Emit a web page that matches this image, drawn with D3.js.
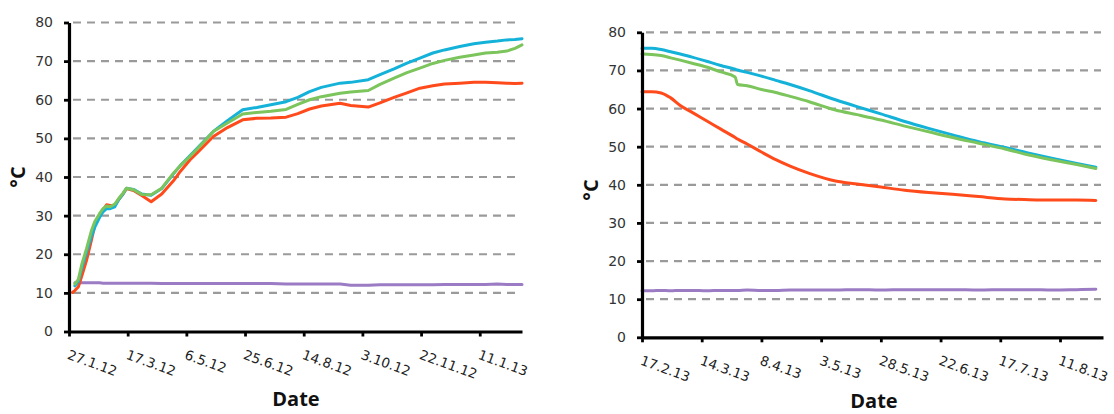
<!DOCTYPE html>
<html>
<head>
<meta charset="utf-8">
<style>
body { margin: 0; background: #fff; }
svg { display: block; }
</style>
</head>
<body>
<svg id="chart" width="1114" height="414"></svg>
<script src="https://d3js.org/d3.v7.min.js"></script>
<script>
    // shared y axis values
    const yTicks = [0, 10, 20, 30, 40, 50, 60, 70, 80];
    const gridValues = [10, 20, 30, 40, 50, 60, 70, 80];
    const yTitle = "°C";
    const xTitle = "Date";

    // left chart: heating period, days counted from 27.1.12
    const leftStart = "27.1.12";
    const leftEnd = "16.2.13";
    const leftTicks = ["27.1.12", "17.3.12", "6.5.12", "25.6.12", "14.8.12", "3.10.12", "22.11.12", "11.1.13"];
    const leftDays = [3, 5, 8, 11, 15, 19, 22, 26, 29, 32, 35, 39, 42, 46, 49, 55, 62, 70, 79, 89, 95, 103, 110, 123, 135,
        148, 160, 172, 185, 195, 205, 215, 231, 240, 255, 265, 277, 288, 299, 310, 320, 333, 345, 355, 365, 373, 380, 386];
    const leftRed = [10.1, 10.6, 11.6, 14.5, 18.5, 23.5, 27.5, 30.0, 31.5, 32.8, 32.6, 32.6, 34.0, 35.6, 37.0, 36.5, 35.2,
        33.6, 35.6, 39.0, 41.5, 44.4, 46.5, 50.5, 52.8, 54.8, 55.2, 55.3, 55.5, 56.4, 57.6, 58.4, 59.1, 58.5, 58.1, 59.2,
        60.6, 61.8, 63.0, 63.6, 64.1, 64.3, 64.5, 64.5, 64.4, 64.3, 64.2, 64.3];
    const leftGreen = [null, 12.3, 13.5, 17.5, 21.5, 26.0, 28.5, 30.5, 31.8, 32.5, 32.3, 33.0, 34.3, 35.8, 37.1, 36.7, 35.5,
        35.4, 37.1, 41.0, 43.0, 45.3, 47.5, 51.8, 54.0, 56.3, 56.7, 57.0, 57.5, 58.8, 60.0, 60.8, 61.7, 62.0, 62.4, 64.0,
        65.6, 67.0, 68.2, 69.4, 70.2, 71.0, 71.6, 72.1, 72.3, 72.6, 73.3, 74.2];
    const leftCyan = [null, 11.8, 13.0, 16.5, 20.5, 24.5, 27.0, 29.5, 31.0, 31.8, 31.8, 32.3, 34.0, 35.6, 37.1, 36.8, 35.6,
        35.3, 37.0, 40.8, 43.0, 45.5, 47.7, 51.8, 54.6, 57.4, 58.0, 58.7, 59.5, 60.6, 62.1, 63.2, 64.3, 64.5, 65.2, 66.5,
        68.0, 69.5, 70.8, 72.1, 72.9, 73.8, 74.5, 74.9, 75.2, 75.5, 75.6, 75.8];
    const leftPurple = [null, 12.6, 12.6, 12.6, 12.6, 12.6, 12.6, 12.6, 12.5, 12.5, 12.5, 12.5, 12.5, 12.5, 12.5, 12.5, 12.5,
        12.5, 12.4, 12.4, 12.4, 12.4, 12.4, 12.4, 12.4, 12.4, 12.4, 12.4, 12.3, 12.3, 12.3, 12.3, 12.3, 12.0, 12.0, 12.1,
        12.1, 12.1, 12.1, 12.1, 12.2, 12.2, 12.2, 12.2, 12.3, 12.2, 12.2, 12.2];

    // right chart: cooling period, days counted from 17.2.13
    const rightStart = "17.2.13";
    const rightEnd = "29.8.13";
    const rightTicks = ["17.2.13", "14.3.13", "8.4.13", "3.5.13", "28.5.13", "22.6.13", "17.7.13", "11.8.13"];
    const rightDays = [0, 4, 8, 12, 16, 21, 27, 33, 39, 40, 44, 50, 56, 62, 70, 81, 90, 100, 110, 120, 130, 141, 152, 162, 172, 182, 190];
    const rightCyan = [75.8, 75.8, 75.5, 74.9, 74.3, 73.5, 72.4, 71.3, 70.3, 70.1, 69.5, 68.5, 67.4, 66.3, 64.7, 62.3, 60.5,
        58.6, 56.6, 54.8, 53.1, 51.3, 49.8, 48.3, 46.9, 45.6, 44.6];
    const rightGreen = [74.3, 74.2, 73.9, 73.3, 72.7, 71.9, 70.9, 69.6, 68.3, 66.3, 66.0, 65.0, 64.2, 63.2, 61.8, 59.6, 58.4,
        57.0, 55.4, 53.9, 52.4, 50.9, 49.4, 47.8, 46.5, 45.3, 44.3];
    const rightRed = [64.4, 64.4, 64.1, 62.8, 60.8, 59.0, 56.8, 54.6, 52.4, 52.0, 50.7, 48.6, 46.6, 44.9, 43.0, 41.0, 40.2,
        39.4, 38.6, 38.0, 37.5, 36.9, 36.3, 36.1, 36.0, 36.0, 35.9];
    const rightPurple = [12.2, 12.2, 12.3, 12.2, 12.3, 12.3, 12.2, 12.3, 12.3, 12.3, 12.4, 12.3, 12.3, 12.4, 12.4, 12.4, 12.5,
        12.4, 12.5, 12.5, 12.5, 12.4, 12.5, 12.5, 12.4, 12.5, 12.6];

    const colors = { purple: "#9b7cc4", red: "#ff4a1c", cyan: "#14b2d8", green: "#7cc45c" };

    const svg = d3.select("#chart");
    const parse = d3.timeParse("%d.%m.%y");
    const fmt = d3.timeFormat("%-d.%-m.%y");

    drawPanel({
        left: 69, right: 522, top: 22.5, bottom: 331.5,
        start: leftStart, end: leftEnd, ticks: leftTicks, days: leftDays,
        series: [["purple", leftPurple], ["red", leftRed], ["cyan", leftCyan], ["green", leftGreen]],
        curve: d3.curveLinear,
        yTitleX: 25, yTitleY: 177, xTitleX: 296, xTitleY: 406
    });

    drawPanel({
        left: 642, right: 1103, top: 32.3, bottom: 337.3,
        start: rightStart, end: rightEnd, ticks: rightTicks, days: rightDays,
        series: [["purple", rightPurple], ["red", rightRed], ["cyan", rightCyan], ["green", rightGreen]],
        curve: d3.curveMonotoneX,
        yTitleX: 598, yTitleY: 190, xTitleX: 874, xTitleY: 408
    });

    function drawPanel(p) {
        const start = parse(p.start);
        const x = d3.scaleTime().domain([start, parse(p.end)]).range([p.left, p.right]);
        const y = d3.scaleLinear().domain([0, 80]).range([p.bottom, p.top]);
        const g = svg.append("g");

        // dashed horizontal grid
        g.append("g").selectAll("line")
            .data(gridValues)
            .enter()
            .append("line")
            .attr("x1", p.left + 4)
            .attr("x2", p.right - 2)
            .attr("y1", d => y(d))
            .attr("y2", d => y(d))
            .style("stroke", "#9a9a9a")
            .style("stroke-width", 2.2)
            .style("stroke-dasharray", "8,6");

        // series lines
        p.series.forEach(([name, values]) => {
            const pts = p.days.map((d, i) => ({ date: d3.timeDay.offset(start, d), v: values[i] }));
            const line = d3.line()
                .defined(d => d.v != null)
                .curve(p.curve)
                .x(d => x(d.date))
                .y(d => y(d.v));
            g.append("path")
                .datum(pts)
                .attr("d", line)
                .style("fill", "none")
                .style("stroke", colors[name])
                .style("stroke-width", 3)
                .style("stroke-linejoin", "round")
                .style("stroke-linecap", "round");
        });

        // y axis
        const yAxis = g.append("g")
            .attr("transform", `translate(${p.left},0)`)
            .call(d3.axisLeft(y).tickValues(yTicks).tickSize(5).tickSizeOuter(0).tickPadding(11));
        yAxis.select(".domain").style("stroke", "#000").style("stroke-width", 3.2);
        yAxis.selectAll(".tick line").style("stroke", "#000").style("stroke-width", 2.8);
        yAxis.selectAll("text")
            .attr("font-family", "DejaVu Sans")
            .attr("font-size", "14px")
            .style("fill", "#333");

        // x axis
        const xAxis = g.append("g")
            .attr("transform", `translate(0,${p.bottom})`)
            .call(d3.axisBottom(x).tickValues(p.ticks.map(parse)).tickFormat(fmt).tickSize(5).tickSizeOuter(0));
        xAxis.select(".domain").style("stroke", "#000").style("stroke-width", 3.2);
        xAxis.selectAll(".tick line").style("stroke", "#000").style("stroke-width", 2.8);
        xAxis.selectAll("text")
            .attr("x", 0)
            .attr("y", 0)
            .attr("dy", 0)
            .attr("text-anchor", "start")
            .attr("transform", "translate(-3,27) rotate(20)")
            .attr("font-family", "DejaVu Sans")
            .attr("font-size", "13.5px")
            .style("fill", "#222");

        // axis titles
        g.append("text")
            .attr("transform", `translate(${p.yTitleX},${p.yTitleY}) rotate(-90)`)
            .attr("text-anchor", "middle")
            .attr("font-family", "Open Sans")
            .attr("font-weight", "bold")
            .attr("font-size", "20px")
            .style("fill", "#111")
            .text(yTitle);

        g.append("text")
            .attr("x", p.xTitleX)
            .attr("y", p.xTitleY)
            .attr("text-anchor", "middle")
            .attr("font-family", "Open Sans")
            .attr("font-weight", "bold")
            .attr("font-size", "20px")
            .style("fill", "#111")
            .text(xTitle);
    }
</script>
</body>
</html>
